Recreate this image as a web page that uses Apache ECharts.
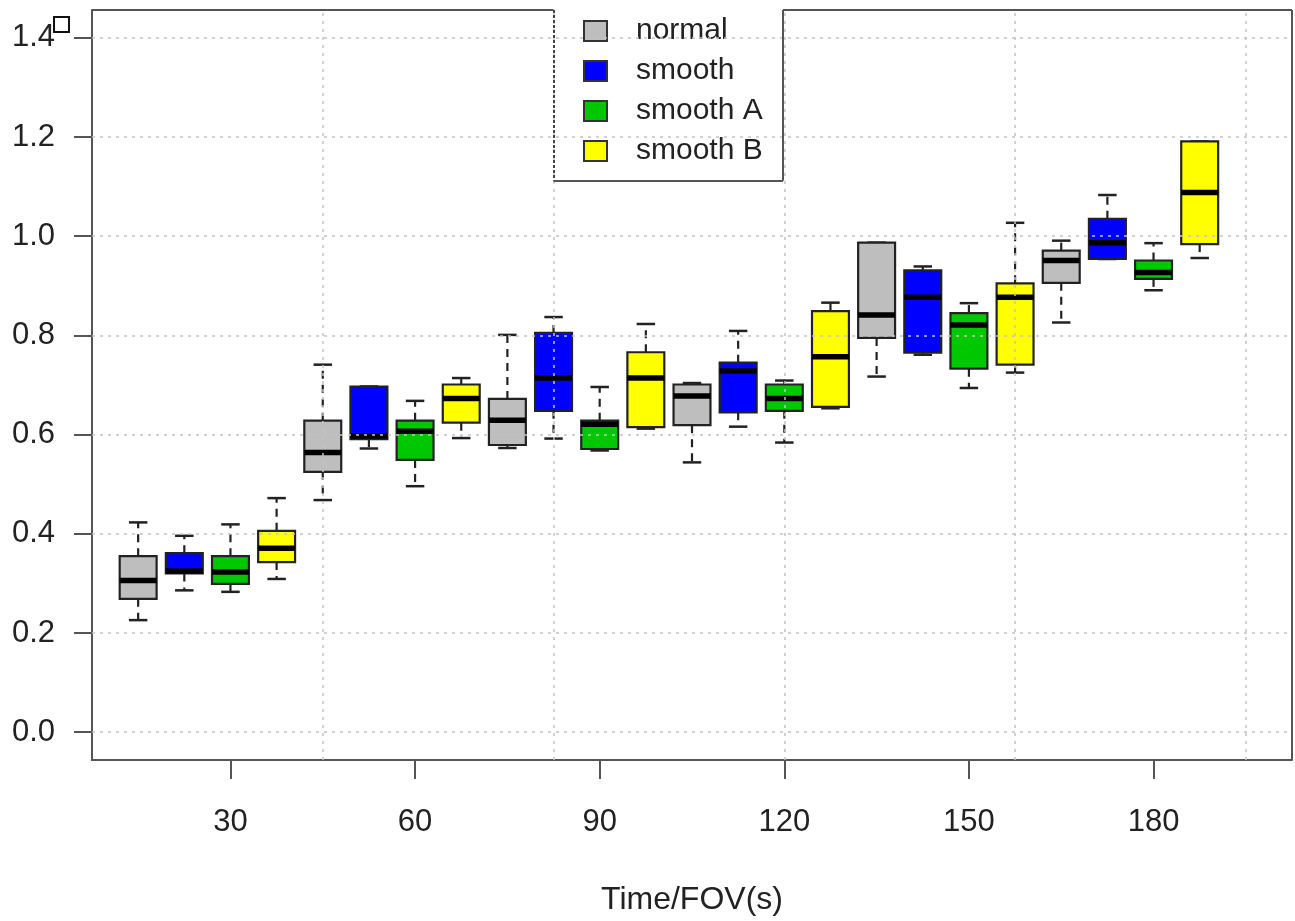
<!DOCTYPE html>
<html>
<head>
<meta charset="utf-8">
<script src="https://cdn.jsdelivr.net/npm/echarts@6/dist/echarts.min.js"></script>
<style>
html,body{margin:0;padding:0;background:#fff;}
#chart{width:1295px;height:921px;}
</style>
</head>
<body>
<div id="chart"></div>
<script>
// ---- data: each row is [min, Q1, median, Q3, max] per time group ----
var groupLabels = ['30', '60', '90', '120', '150', '180'];
var seriesNames = ['normal', 'smooth', 'smooth A', 'smooth B'];
var normal = [
  [0.226, 0.269, 0.306, 0.355, 0.423],
  [0.468, 0.525, 0.564, 0.628, 0.741],
  [0.573, 0.579, 0.629, 0.672, 0.801],
  [0.544, 0.619, 0.678, 0.701, 0.704],
  [0.717, 0.795, 0.841, 0.987, 0.987],
  [0.826, 0.906, 0.951, 0.971, 0.991]
];
var smooth = [
  [0.286, 0.320, 0.325, 0.361, 0.396],
  [0.572, 0.591, 0.597, 0.697, 0.697],
  [0.592, 0.648, 0.714, 0.805, 0.837],
  [0.616, 0.645, 0.728, 0.745, 0.809],
  [0.761, 0.765, 0.877, 0.931, 0.939],
  [0.954, 0.954, 0.987, 1.035, 1.083]
];
var smoothA = [
  [0.283, 0.299, 0.323, 0.355, 0.419],
  [0.496, 0.549, 0.607, 0.628, 0.668],
  [0.568, 0.571, 0.621, 0.628, 0.696],
  [0.584, 0.648, 0.673, 0.701, 0.709],
  [0.694, 0.733, 0.821, 0.845, 0.865],
  [0.891, 0.914, 0.927, 0.951, 0.986]
];
var smoothB = [
  [0.309, 0.343, 0.371, 0.406, 0.472],
  [0.593, 0.624, 0.673, 0.701, 0.714],
  [0.612, 0.615, 0.714, 0.766, 0.823],
  [0.653, 0.656, 0.757, 0.849, 0.866],
  [0.725, 0.741, 0.877, 0.905, 1.027],
  [0.956, 0.984, 1.088, 1.191, 1.191]
];
var yTicks = [0, 0.2, 0.4, 0.6, 0.8, 1.0, 1.2, 1.4];
var xLabelPositions = [3, 7, 11, 15, 19, 23];
var xGridPositions = [5, 10, 15, 20, 25];

var allSeries = [normal, smooth, smoothA, smoothB];
var colors = ['#BEBEBE', '#0000FF', '#00C800', '#FFFF00'];

var X_MIN = 0, X_MAX = 26, Y_MIN = -0.056, Y_MAX = 1.456;
var LEG_L = 10, LEG_R = 14.97, LEG_B = 1.112;

function buildData(arr, k) {
  return arr.map(function (row, g) {
    return [g * 4 + k + 1].concat(row);
  });
}

function renderBox(params, api) {
  var x = api.value(0);
  var vmin = api.value(1), q1 = api.value(2), med = api.value(3), q3 = api.value(4), vmax = api.value(5);
  var bw = api.size([0.8, 0])[0];
  var cw = api.size([0.4, 0])[0];
  var pMin = api.coord([x, vmin]), pQ1 = api.coord([x, q1]), pMed = api.coord([x, med]);
  var pQ3 = api.coord([x, q3]), pMax = api.coord([x, vmax]);
  var cx = pMin[0];
  var dash = {stroke: '#222', lineWidth: 2.2, lineDash: [8, 6]};
  var solid = {stroke: '#222', lineWidth: 2.5};
  return {
    type: 'group',
    children: [
      {type: 'line', shape: {x1: cx, y1: pQ3[1], x2: cx, y2: pMax[1]}, style: dash},
      {type: 'line', shape: {x1: cx, y1: pQ1[1], x2: cx, y2: pMin[1]}, style: dash},
      {type: 'line', shape: {x1: cx - cw / 2, y1: pMax[1], x2: cx + cw / 2, y2: pMax[1]}, style: solid},
      {type: 'line', shape: {x1: cx - cw / 2, y1: pMin[1], x2: cx + cw / 2, y2: pMin[1]}, style: solid},
      {type: 'rect', shape: {x: cx - bw / 2, y: pQ3[1], width: bw, height: pQ1[1] - pQ3[1]},
        style: {fill: api.visual('color'), stroke: '#222', lineWidth: 2.2}},
      {type: 'line', shape: {x1: cx - bw / 2, y1: pMed[1], x2: cx + bw / 2, y2: pMed[1]},
        style: {stroke: '#000', lineWidth: 5.5}}
    ]
  };
}

var gridStyle = {type: [3, 5], color: '#c4c4c4', width: 1.5};
var frameStyle = {type: 'solid', color: '#555', width: 2};
var legendLeftStyle = {type: [3, 2], color: '#444', width: 2};

var markData = [];
yTicks.forEach(function (v) { markData.push({yAxis: v, lineStyle: gridStyle}); });
xGridPositions.forEach(function (v) { markData.push({xAxis: v, lineStyle: gridStyle}); });
markData.push([{coord: [X_MIN, Y_MAX], lineStyle: frameStyle}, {coord: [LEG_L, Y_MAX]}]);
markData.push([{coord: [LEG_R, Y_MAX], lineStyle: frameStyle}, {coord: [X_MAX, Y_MAX]}]);
markData.push([{coord: [X_MAX, Y_MIN], lineStyle: frameStyle}, {coord: [X_MAX, Y_MAX]}]);
markData.push([{coord: [LEG_L, Y_MAX], lineStyle: legendLeftStyle}, {coord: [LEG_L, LEG_B]}]);
markData.push([{coord: [LEG_L, LEG_B], lineStyle: frameStyle}, {coord: [LEG_R, LEG_B]}]);
markData.push([{coord: [LEG_R, LEG_B], lineStyle: frameStyle}, {coord: [LEG_R, Y_MAX]}]);

var series = [{
  type: 'line',
  name: '_grid',
  data: [],
  z: 1,
  silent: true,
  markLine: {
    silent: true,
    symbol: ['none', 'none'],
    label: {show: false},
    animation: false,
    data: markData
  }
}];
allSeries.forEach(function (arr, k) {
  series.push({
    type: 'custom',
    name: seriesNames[k],
    z: 3,
    itemStyle: {color: colors[k]},
    renderItem: renderBox,
    encode: {x: 0, y: [1, 2, 3, 4, 5]},
    data: buildData(arr, k),
    animation: false
  });
});

var fontFamily = '"Liberation Sans", Arial, sans-serif';
var chart = echarts.init(document.getElementById('chart'), null, {renderer: 'canvas'});
chart.setOption({
  backgroundColor: '#fff',
  animation: false,
  textStyle: {fontFamily: fontFamily},
  grid: {left: 92, right: 3, top: 10, bottom: 155, containLabel: false},
  legend: {
    orient: 'vertical',
    left: 583,
    top: 16,
    padding: 0,
    itemWidth: 23,
    itemHeight: 20,
    itemGap: 10,
    textStyle: {fontSize: 30, color: '#222', fontFamily: fontFamily, padding: [0, 0, 0, 24]},
    data: seriesNames.map(function (n) {
      return {name: n, icon: 'rect', itemStyle: {borderColor: '#333', borderWidth: 2}};
    })
  },
  xAxis: {
    type: 'value',
    min: X_MIN,
    max: X_MAX,
    name: 'Time/FOV(s)',
    nameLocation: 'middle',
    nameGap: 124,
    nameTextStyle: {fontSize: 32, color: '#222', fontFamily: fontFamily},
    axisLine: {show: true, onZero: false, lineStyle: {color: '#555', width: 2}},
    axisTick: {show: true, length: 19, customValues: xLabelPositions, lineStyle: {color: '#555', width: 2}},
    axisLabel: {
      show: true, fontSize: 31, color: '#222', margin: 47, customValues: xLabelPositions,
      formatter: function (v) {
        var i = xLabelPositions.indexOf(Math.round(v));
        return i >= 0 ? groupLabels[i] : '';
      }
    },
    splitLine: {show: false}
  },
  yAxis: {
    type: 'value',
    min: Y_MIN,
    max: Y_MAX,
    axisLine: {show: true, onZero: false, lineStyle: {color: '#555', width: 2}},
    axisTick: {show: true, length: 18, customValues: yTicks, lineStyle: {color: '#555', width: 2}},
    axisLabel: {
      show: true, fontSize: 31, color: '#222', margin: 37, customValues: yTicks,
      formatter: function (v) { return v.toFixed(1); }
    },
    splitLine: {show: false}
  },
  graphic: [{
    type: 'rect',
    left: 53,
    top: 16,
    shape: {width: 15, height: 15},
    style: {fill: '#fff', stroke: '#111', lineWidth: 2}
  }],
  series: series
});
</script>
</body>
</html>
